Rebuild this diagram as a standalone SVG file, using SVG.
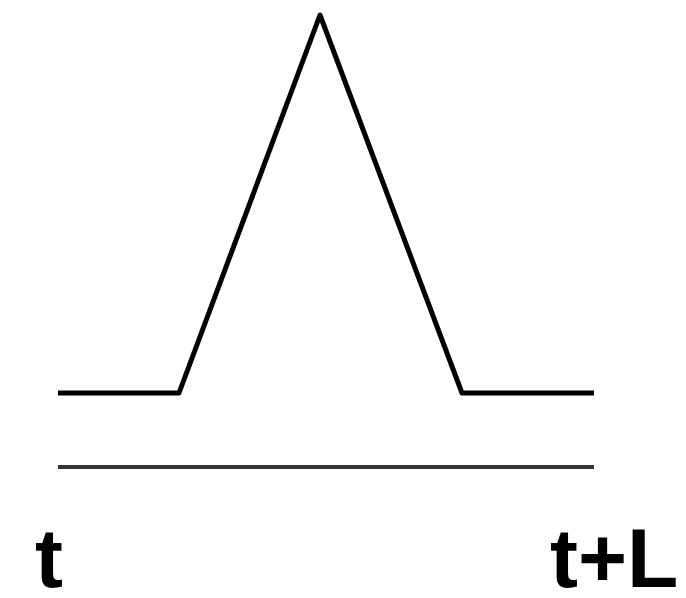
<svg xmlns="http://www.w3.org/2000/svg" width="686" height="598" viewBox="0 0 686 598">
<style>
.pulse{fill:none;stroke:#000;stroke-width:5;stroke-linejoin:round}
.axis{fill:none;stroke:#333;stroke-width:4}
.lbl{font-family:"Liberation Sans",Arial,sans-serif;font-weight:bold;font-size:84px;fill:#000}
</style>
<rect width="686" height="598" fill="#fff"/>
<g id="connectors">
<polyline id="pulse" class="pulse" points="58,393 179,393 320,15 462,393 594,393"/>
<line id="axis" class="axis" x1="58" y1="467" x2="594" y2="467"/>
</g>
<g id="label-t"><text class="lbl" x="35" y="587">t</text></g>
<g id="label-tL"><text class="lbl" x="550" y="587">t+L</text></g>
</svg>
